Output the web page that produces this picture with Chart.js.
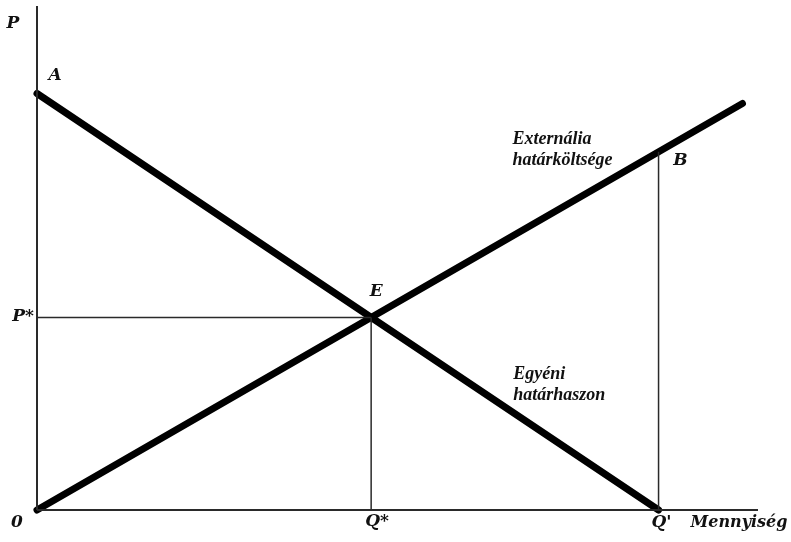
<!DOCTYPE html>
<html>
<head>
<meta charset="utf-8">
<script src="https://cdn.jsdelivr.net/npm/chart.js@4"></script>
<style>
html,body{margin:0;padding:0;background:#fff;}
#wrap{width:791px;height:542px;position:relative;}
</style>
</head>
<body>
<div id="wrap"><canvas id="c" width="791" height="542"></canvas></div>
<script>
// ---- data (arbitrary units) ----
const axisMax = { x: 11.6, y: 12.1 };
const demandX = [0, 10];          // Egyéni határhaszon: A -> Q'
const demandY = [10, 0];
const supplyX = [0, 11.35];       // Externália határköltsége: 0 -> end
const supplyY = [0, 9.76];
const eqX = 5.376;                // Q*
const eqY = 4.624;                // P*
const qPrime = 10;                // Q'
const bY = 8.6;                   // B (supply at Q')
const tickLabels = { origin: '0', qStar: 'Q*', qPrime: "Q'", xTitle: 'Mennyiség', pStar: 'P*', yTitle: 'P' };
const pointLabels = { a: 'A', e: 'E', b: 'B' };
const curveLabels = { supply: ['Externália', 'határköltsége'], demand: ['Egyéni', 'határhaszon'] };

const pts = (xs, ys) => xs.map((x, i) => ({ x, y: ys[i] }));

const big = 'italic bold 17px "DejaVu Serif"';
const title = 'italic bold 16px "DejaVu Serif"';
const small = 'italic bold 18px "Liberation Serif"';

// label anchors in data coords; pixel offsets for placement
const annotations = [
  { t: tickLabels.yTitle, x: 0, y: axisMax.y, dx: -24, dy: 18, font: big, align: 'center' },
  { t: pointLabels.a, x: 0, y: demandY[0], dx: 18, dy: -18, font: big, align: 'center' },
  { t: pointLabels.e, x: eqX, y: eqY, dx: 5, dy: -26, font: big, align: 'center' },
  { t: tickLabels.pStar, x: 0, y: eqY, dx: -14, dy: -1, font: big, align: 'center' },
  { t: pointLabels.b, x: qPrime, y: bY, dx: 22, dy: 9, font: big, align: 'center' },
  { t: tickLabels.origin, x: 0, y: 0, dx: -20, dy: 13, font: big, align: 'center' },
  { t: tickLabels.qStar, x: eqX, y: 0, dx: 6, dy: 12, font: big, align: 'center' },
  { t: tickLabels.qPrime, x: qPrime, y: 0, dx: 3, dy: 13, font: big, align: 'center' },
  { t: tickLabels.xTitle, x: qPrime, y: 0, dx: 32, dy: 13, font: title, align: 'left' },
  { t: curveLabels.supply[0], x: qPrime, y: bY, dx: -146, dy: -12, font: small, align: 'left' },
  { t: curveLabels.supply[1], x: qPrime, y: bY, dx: -146, dy: 9, font: small, align: 'left' },
  { t: curveLabels.demand[0], x: eqX, y: eqY, dx: 142, dy: 57, font: small, align: 'left' },
  { t: curveLabels.demand[1], x: eqX, y: eqY, dx: 142, dy: 78, font: small, align: 'left' }
];

const labelPlugin = {
  id: 'labels',
  afterDatasetsDraw(chart) {
    const { ctx, scales: { x, y } } = chart;
    ctx.save();
    ctx.fillStyle = '#111';
    ctx.textBaseline = 'middle';
    annotations.forEach(a => {
      ctx.font = a.font;
      ctx.textAlign = a.align;
      ctx.fillText(a.t, x.getPixelForValue(a.x) + a.dx, y.getPixelForValue(a.y) + a.dy);
    });
    ctx.restore();
  }
};

const thin = { borderColor: '#2a2a2a', borderWidth: 1.5 };
const thick = { borderColor: '#000', borderWidth: 7, borderCapStyle: 'round' };

new Chart(document.getElementById('c'), {
  type: 'scatter',
  data: {
    datasets: [
      { label: 'x axis', data: pts([0, axisMax.x], [0, 0]), ...thin, borderWidth: 2 },
      { label: 'y axis', data: pts([0, 0], [0, axisMax.y]), ...thin, borderWidth: 2 },
      { label: 'P*', data: pts([0, eqX], [eqY, eqY]), ...thin },
      { label: 'Q*', data: pts([eqX, eqX], [0, eqY]), ...thin },
      { label: "Q'", data: pts([qPrime, qPrime], [0, bY]), ...thin },
      { label: 'Egyéni határhaszon', data: pts(demandX, demandY), ...thick },
      { label: 'Externália határköltsége', data: pts(supplyX, supplyY), ...thick }
    ].map(d => Object.assign({ showLine: true, pointRadius: 0, pointHoverRadius: 0, clip: false, tension: 0 }, d))
  },
  options: {
    responsive: false,
    animation: false,
    events: [],
    layout: { padding: { left: 37, right: 33, top: 6, bottom: 32 } },
    plugins: { legend: { display: false }, tooltip: { enabled: false } },
    scales: {
      x: { type: 'linear', min: 0, max: axisMax.x, display: false },
      y: { type: 'linear', min: 0, max: axisMax.y, display: false }
    }
  },
  plugins: [labelPlugin]
});
</script>
</body>
</html>
